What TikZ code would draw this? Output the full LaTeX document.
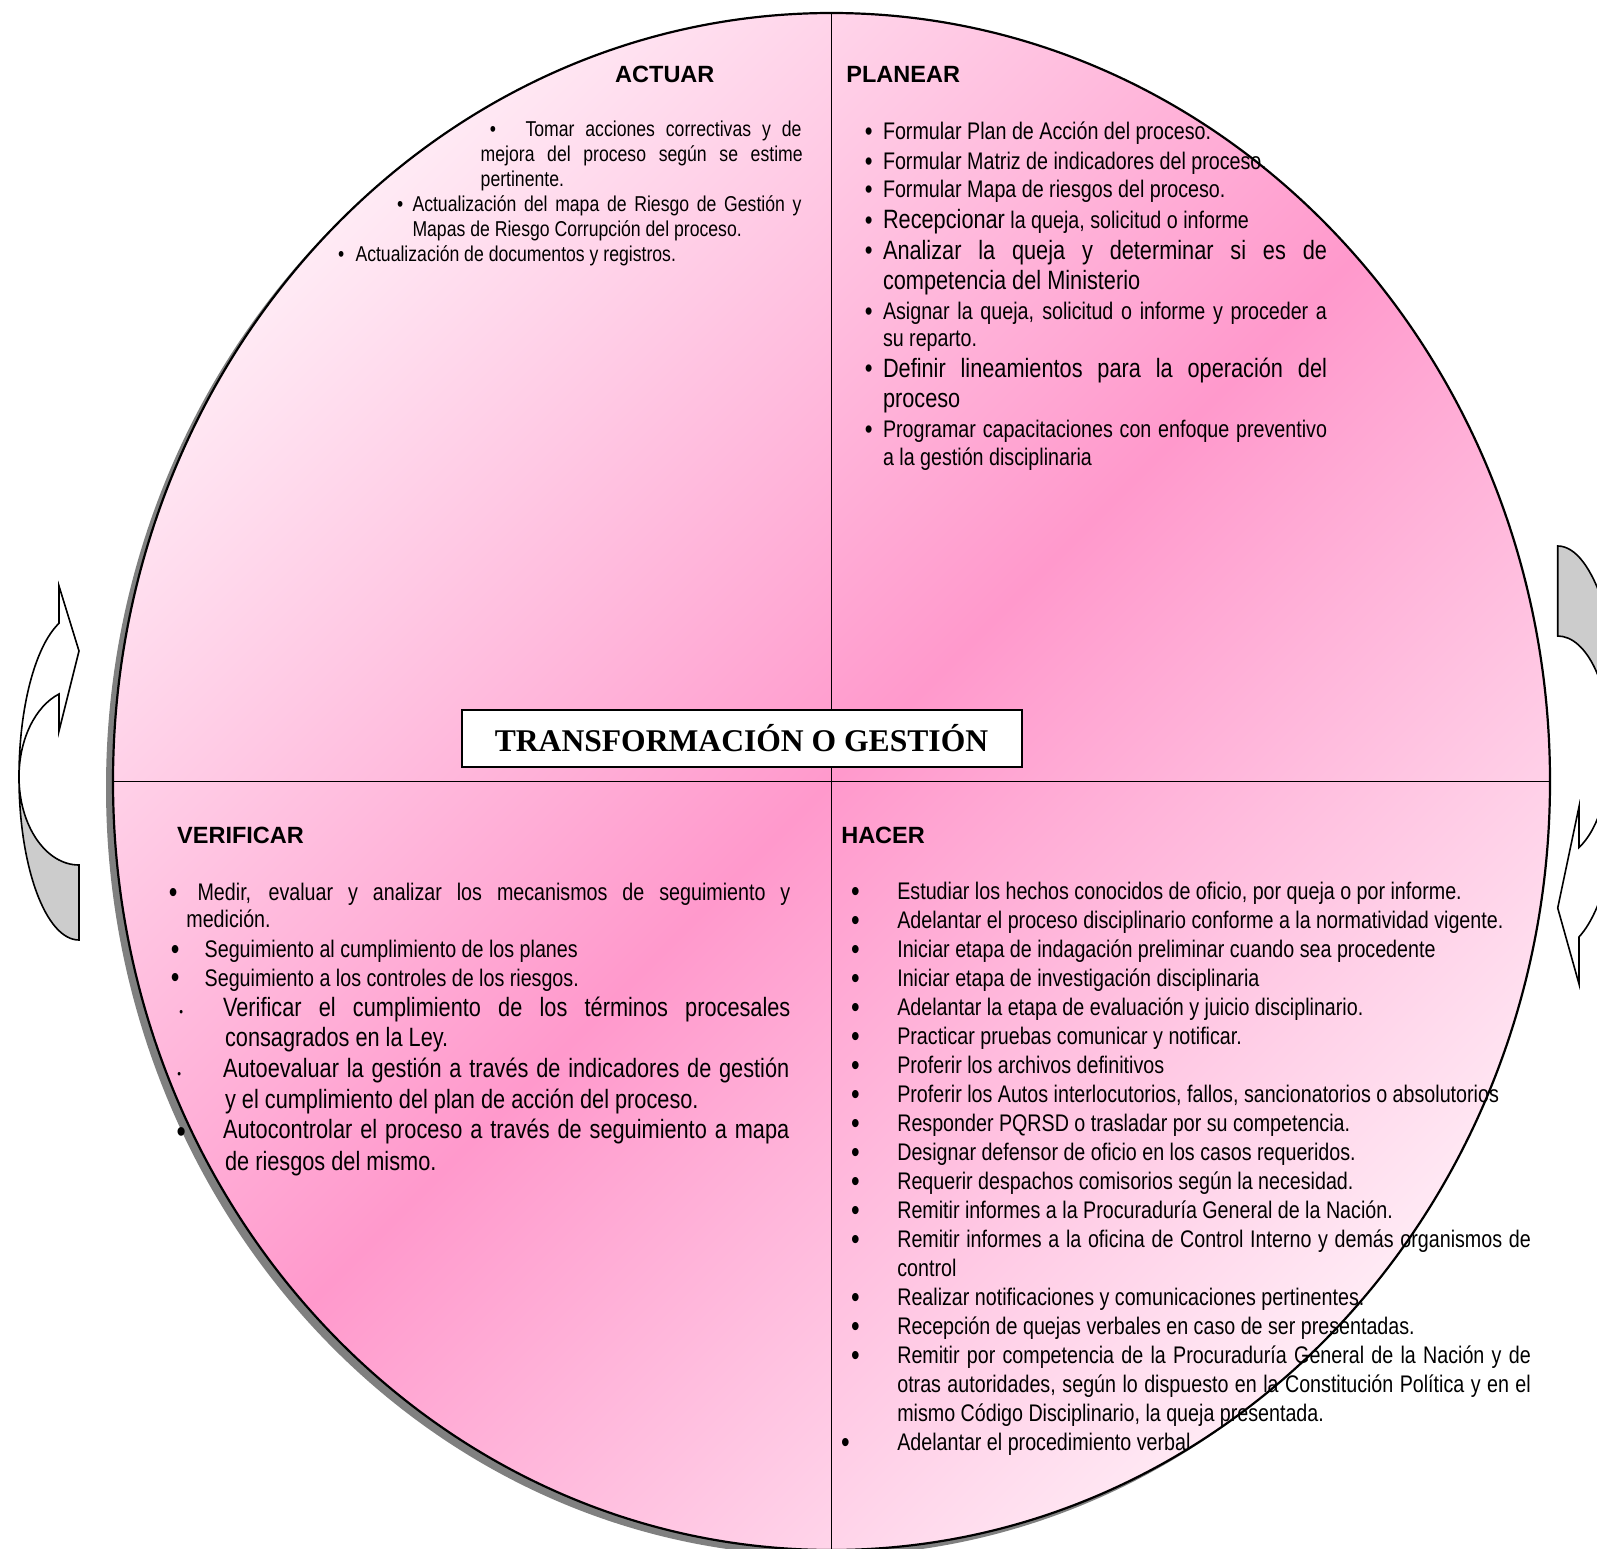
\documentclass[tikz,border=0pt]{standalone}
\usepackage{fontspec}
\setmainfont{Liberation Sans}
\newfontfamily\nar{Liberation Sans}[FakeStretch=0.82]
\newfontfamily\tnr{Liberation Serif}
\definecolor{rosa}{RGB}{255,153,204}
\definecolor{flecha}{RGB}{204,204,204}
\definecolor{sombra}{RGB}{128,128,128}
\newcommand\szA{\nar\fontsize{21.5bp}{25bp}\selectfont}
\newcommand\szB{\nar\fontsize{24bp}{29bp}\selectfont}
\newcommand\szC{\nar\fontsize{26.5bp}{31bp}\selectfont}
\newcommand\szH{\fontsize{23.5bp}{28bp}\selectfont\bfseries}
\newcommand\bulB{\nar\fontsize{30bp}{32bp}\selectfont}
\newcommand\bulP{\nar\fontsize{27bp}{30bp}\selectfont}
\begin{document}
\begin{tikzpicture}[x=1bp,y=-1bp,
  txtline/.style={anchor=base west,inner sep=0pt,outer sep=0pt},
  bulnode/.style={anchor=base,inner sep=0pt,outer sep=0pt},
  arrowline/.style={draw=black,line width=1.6bp,line join=miter}]
\useasboundingbox (0,0) rectangle (1597,1549);
\clip (0,0) rectangle (1597,1549);
% shadow
\fill[sombra] (824.5,787.5) ellipse [x radius=718.5, y radius=768.5];
% gradient fill
\begin{scope}
  \clip (831.5,781.5) ellipse [x radius=718.5, y radius=768.5];
  \begin{scope}[transform canvas={rotate around={-45:(831.5,781.5)}}]
    \shade[left color=rosa!20!white, right color=rosa!20!white, middle color=rosa]
      (87.5,-20) rectangle (1575.5,1583);
  \end{scope}
\end{scope}
\draw[line width=2.2bp] (831.5,781.5) ellipse [x radius=718.5, y radius=768.5];
% dividers
\coordinate (ctop) at (831.5,13);
\coordinate (cbot) at (831.5,1549);
\coordinate (cleft) at (113,781.5);
\coordinate (cright) at (1550,781.5);
\draw[line width=1.8bp] (ctop) -- (cbot);
\draw[line width=1.8bp] (cleft) -- (cright);
% title box
\node[draw,line width=2bp,fill=white,minimum width=560bp,minimum height=57bp,inner sep=0pt,
  font=\tnr\bfseries\fontsize{31.6bp}{36bp}\selectfont] (titulo) at (741.5,738.4) {TRANSFORMACIÓN O GESTIÓN};
% left curved arrow
\fill[flecha,arrowline] (19,777) arc[start angle=180,end angle=90,x radius=60,y radius=163]
  -- (79,865) arc[start angle=90,end angle=180,x radius=60,y radius=88] -- cycle;
\fill[white,arrowline] (59,623.3) arc[start angle=250.53,end angle=180,x radius=60,y radius=163]
  arc[start angle=180,end angle=250.53,x radius=60,y radius=88]
  -- (59,731) -- (79,651) -- (59,586) -- cycle;
% right curved arrow
\fill[flecha,arrowline] (1557.7,546) arc[start angle=270,end angle=360,x radius=65,y radius=201]
  -- (1610.3,746.5) arc[start angle=0,end angle=-90,x radius=52.6,y radius=110.5] -- cycle;
\fill[white,arrowline] (1622.7,747) arc[start angle=0,end angle=70.87,x radius=65,y radius=201]
  -- (1579,984) -- (1557.7,908) -- (1579,806.7) -- (1579,847.5)
  arc[start angle=66.1,end angle=0,x radius=52.6,y radius=110.5] -- cycle;
% headings
\node[txtline,font=\szH] (hact) at (615.2,82.5) {ACTUAR};
\node[txtline,font=\szH] (hpla) at (846.4,82.5) {PLANEAR};
\node[txtline,font=\szH] (hver) at (177.2,843.7) {VERIFICAR};
\node[txtline,font=\szH] (hhac) at (841.3,843.7) {HACER};
% ACTUAR
\node[bulnode,font=\szA] (ab1) at (493,137) {•};
\node[txtline,font=\szA] (a1) at (525.5,137) {\makebox[276bp][s]{Tomar acciones correctivas y de}};
\node[txtline,font=\szA] (a2) at (480.7,161.5) {\makebox[322bp][s]{mejora del proceso según se estime}};
\node[txtline,font=\szA] (a3) at (480.7,186) {pertinente.};
\node[bulnode,font=\szA] (ab2) at (400.3,211) {•};
\node[txtline,font=\szA] (a4) at (412.5,211) {\makebox[389bp][s]{Actualización del mapa de Riesgo de Gestión y}};
\node[txtline,font=\szA] (a5) at (412.5,236) {Mapas de Riesgo Corrupción del proceso.};
\node[bulnode,font=\szA] (ab3) at (341.2,261) {•};
\node[txtline,font=\szA] (a6) at (355.5,261) {Actualización de documentos y registros.};
% PLANEAR
\node[bulnode,font=\bulP] (pb1) at (868.8,140.6) {•};
\node[txtline,font=\szB] (p1) at (883,139.6) {Formular Plan de Acción del proceso.};
\node[bulnode,font=\bulP] (pb2) at (868.8,170.1) {•};
\node[txtline,font=\szB] (p2) at (883,169.1) {Formular Matriz de indicadores del proceso.};
\node[bulnode,font=\bulP] (pb3) at (868.8,198.7) {•};
\node[txtline,font=\szB] (p3) at (883,197.7) {Formular Mapa de riesgos del proceso.};
\node[bulnode,font=\bulP] (pb4) at (868.8,229.5) {•};
\node[txtline,font=\szB] (p4) at (883,228.5) {{\szC Recepcionar} la queja, solicitud o informe};
\node[bulnode,font=\bulP] (pb5) at (868.8,259.6) {•};
\node[txtline,font=\szC] (p5) at (883,259.6) {\makebox[444bp][s]{Analizar la queja y determinar si es de}};
\node[txtline,font=\szC] (p6) at (883,289.1) {competencia del Ministerio};
\node[bulnode,font=\bulP] (pb7) at (868.8,320.9) {•};
\node[txtline,font=\szB] (p7) at (883,319.9) {\makebox[444bp][s]{Asignar la queja, solicitud o informe y proceder a}};
\node[txtline,font=\szB] (p8) at (883,346.4) {su reparto.};
\node[bulnode,font=\bulP] (pb9) at (868.8,377.7) {•};
\node[txtline,font=\szC] (p9) at (883,377.7) {\makebox[444bp][s]{Definir lineamientos para la operación del}};
\node[txtline,font=\szC] (p10) at (883,407.3) {proceso};
\node[bulnode,font=\bulP] (pb11) at (868.8,438) {•};
\node[txtline,font=\szB] (p11) at (883,437) {\makebox[444bp][s]{Programar capacitaciones con enfoque preventivo}};
\node[txtline,font=\szB] (p12) at (883,465.5) {a la gestión disciplinaria};
% VERIFICAR
\node[bulnode,font=\bulB] (vb1) at (173.1,902) {•};
\node[txtline,font=\szB] (v1) at (197.6,900.4) {\makebox[592.8bp][s]{Medir, evaluar y analizar los mecanismos de seguimiento y}};
\node[txtline,font=\szB] (v2) at (186.4,927.9) {medición.};
\node[bulnode,font=\bulB] (vb3) at (175.2,959) {•};
\node[txtline,font=\szB] (v3) at (204.7,957.5) {Seguimiento al cumplimiento de los planes};
\node[bulnode,font=\bulB] (vb4) at (175.2,987.5) {•};
\node[txtline,font=\szB] (v4) at (204.7,986) {Seguimiento a los controles de los riesgos.};
\node[bulnode,font=\nar\fontsize{13bp}{14bp}\selectfont] (vb5) at (181.3,1016.3) {•};
\node[txtline,font=\szC] (v5) at (223.1,1016.3) {\makebox[567.3bp][s]{Verificar el cumplimiento de los términos procesales}};
\node[txtline,font=\szC] (v6) at (225.1,1046.9) {consagrados en la Ley.};
\node[bulnode,font=\nar\fontsize{13bp}{14bp}\selectfont] (vb7) at (179.3,1078) {•};
\node[txtline,font=\szC] (v7) at (223.1,1077.4) {\makebox[566.2bp][s]{Autoevaluar la gestión a través de indicadores de gestión}};
\node[txtline,font=\szC] (v8) at (225.1,1108) {y el cumplimiento del plan de acción del proceso.};
\node[bulnode,font=\nar\fontsize{32bp}{34bp}\selectfont] (vb9) at (181.3,1142) {•};
\node[txtline,font=\szC] (v9) at (223.1,1138.5) {\makebox[566.2bp][s]{Autocontrolar el proceso a través de seguimiento a mapa}};
\node[txtline,font=\szC] (v10) at (225.1,1170.1) {de riesgos del mismo.};
% HACER
\node[bulnode,font=\bulB] (hb0) at (855.5,901) {•};
\node[txtline,font=\szB] (h0) at (897.3,899.4) {Estudiar los hechos conocidos de oficio, por queja o por informe.};
\node[bulnode,font=\bulB] (hb1) at (855.5,930) {•};
\node[txtline,font=\szB] (h1) at (897.3,928.4) {Adelantar el proceso disciplinario conforme a la normatividad vigente.};
\node[bulnode,font=\bulB] (hb2) at (855.5,959) {•};
\node[txtline,font=\szB] (h2) at (897.3,957.4) {Iniciar etapa de indagación preliminar cuando sea procedente};
\node[bulnode,font=\bulB] (hb3) at (855.5,988) {•};
\node[txtline,font=\szB] (h3) at (897.3,986.4) {Iniciar etapa de investigación disciplinaria};
\node[bulnode,font=\bulB] (hb4) at (855.5,1017) {•};
\node[txtline,font=\szB] (h4) at (897.3,1015.4) {Adelantar la etapa de evaluación y juicio disciplinario.};
\node[bulnode,font=\bulB] (hb5) at (855.5,1046) {•};
\node[txtline,font=\szB] (h5) at (897.3,1044.4) {Practicar pruebas comunicar y notificar.};
\node[bulnode,font=\bulB] (hb6) at (855.5,1075) {•};
\node[txtline,font=\szB] (h6) at (897.3,1073.4) {Proferir los archivos definitivos};
\node[bulnode,font=\bulB] (hb7) at (855.5,1104) {•};
\node[txtline,font=\szB] (h7) at (897.3,1102.4) {Proferir los Autos interlocutorios, fallos, sancionatorios o absolutorios};
\node[bulnode,font=\bulB] (hb8) at (855.5,1133) {•};
\node[txtline,font=\szB] (h8) at (897.3,1131.4) {Responder PQRSD o trasladar por su competencia.};
\node[bulnode,font=\bulB] (hb9) at (855.5,1162) {•};
\node[txtline,font=\szB] (h9) at (897.3,1160.4) {Designar defensor de oficio en los casos requeridos.};
\node[bulnode,font=\bulB] (hb10) at (855.5,1191) {•};
\node[txtline,font=\szB] (h10) at (897.3,1189.4) {Requerir despachos comisorios según la necesidad.};
\node[bulnode,font=\bulB] (hb11) at (855.5,1220) {•};
\node[txtline,font=\szB] (h11) at (897.3,1218.4) {Remitir informes a la Procuraduría General de la Nación.};
\node[bulnode,font=\bulB] (hb12) at (855.5,1249) {•};
\node[txtline,font=\szB] (h12) at (897.3,1247.4) {\makebox[633.5bp][s]{Remitir informes a la oficina de Control Interno y demás organismos de}};
\node[txtline,font=\szB] (h13) at (897.3,1276.4) {control};
\node[bulnode,font=\bulB] (hb14) at (855.5,1307) {•};
\node[txtline,font=\szB] (h14) at (897.3,1305.4) {Realizar notificaciones y comunicaciones pertinentes.};
\node[bulnode,font=\bulB] (hb15) at (855.5,1336) {•};
\node[txtline,font=\szB] (h15) at (897.3,1334.4) {Recepción de quejas verbales en caso de ser presentadas.};
\node[bulnode,font=\bulB] (hb16) at (855.5,1365) {•};
\node[txtline,font=\szB] (h16) at (897.3,1363.4) {\makebox[633.5bp][s]{Remitir por competencia de la Procuraduría General de la Nación y de}};
\node[txtline,font=\szB] (h17) at (897.3,1392.4) {\makebox[633.5bp][s]{otras autoridades, según lo dispuesto en la Constitución Política y en el}};
\node[txtline,font=\szB] (h18) at (897.3,1421.4) {mismo Código Disciplinario, la queja presentada.};
\node[bulnode,font=\bulB] (hb19) at (845.4,1452) {•};
\node[txtline,font=\szB] (h19) at (897.3,1450.4) {Adelantar el procedimiento verbal};
\end{tikzpicture}
\end{document}
